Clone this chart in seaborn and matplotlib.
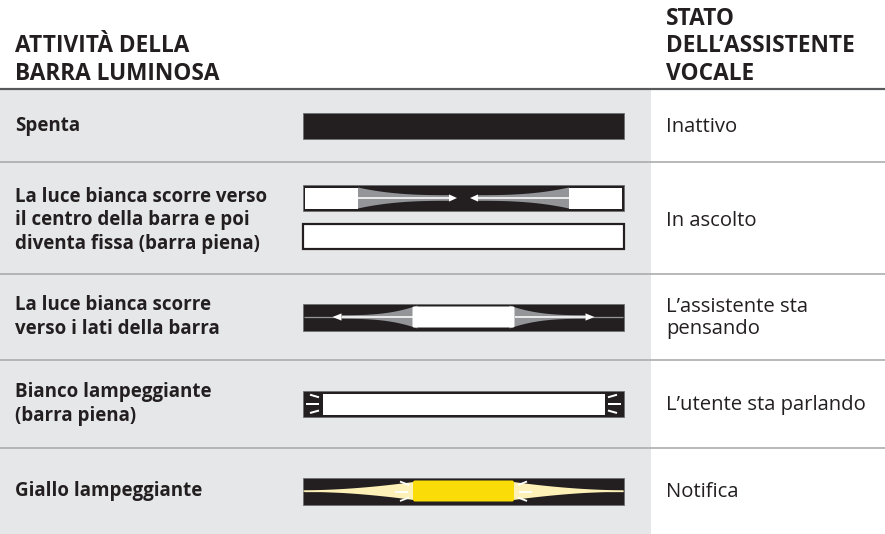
import numpy as np
import matplotlib
matplotlib.use("Agg")
import matplotlib.pyplot as plt
import seaborn as sns
from matplotlib.patches import Rectangle, Polygon, FancyBboxPatch

# ---------------- content ----------------
activity_header = ["ATTIVITÀ DELLA", "BARRA LUMINOSA"]
status_header = ["STATO", "DELL’ASSISTENTE", "VOCALE"]
activities = [
    "Spenta",
    "La luce bianca scorre verso\nil centro della barra e poi\ndiventa fissa (barra piena)",
    "La luce bianca scorre\nverso i lati della barra",
    "Bianco lampeggiante\n(barra piena)",
    "Giallo lampeggiante",
]
statuses = [
    "Inattivo",
    "In ascolto",
    "L’assistente sta\npensando",
    "L’utente sta parlando",
    "Notifica",
]
patterns = ["off", "converge", "diverge", "flash_white", "flash_yellow"]

# ---------------- style / layout ----------------
W, H = 885, 534
DARK = "#231f20"
GRAY_BG = "#e6e7e8"
SEP = "#a7a9ac"
TAPER = "#939598"
YELLOW = "#fadc08"
PALE = "#fdf1b8"
row_bounds = [89, 162, 274, 360, 448, 534]
gray_right = 651
BX0, BX1 = 303, 624
BW = BX1 - BX0
PX = 0.72  # points per pixel at dpi 100

sns.set_theme(style="white")
plt.rcParams["font.family"] = ["Open Sans", "DejaVu Sans"]

fig = plt.figure(figsize=(W / 100, H / 100), dpi=100)
ax = fig.add_axes([0, 0, 1, 1])
ax.set_xlim(0, W)
ax.set_ylim(H, 0)
ax.axis("off")

# backgrounds
ax.add_patch(Rectangle((0, row_bounds[0]), gray_right, H - row_bounds[0], fc=GRAY_BG, ec="none", zorder=0))
ax.plot([0, W], [row_bounds[0], row_bounds[0]], color="#58595b", lw=2.2 * PX, zorder=3,
        solid_capstyle="butt")
for yb in row_bounds[1:-1]:
    ax.plot([0, W], [yb, yb], color=SEP, lw=1.6 * PX, zorder=3, solid_capstyle="butt")

# headers
ax.text(15, 80, "\n".join(activity_header), fontsize=16.3, fontweight="bold", color=DARK,
        va="baseline", ha="left", linespacing=1.2)
ax.text(666, 80, "\n".join(status_header), fontsize=16.3, fontweight="bold", color=DARK,
        va="baseline", ha="left", linespacing=1.2)


def frame(y0, h=26, face=DARK, ec="#6d6e71", lw=0.8):
    ax.add_patch(Rectangle((BX0, y0), BW, h, fc=face, ec=ec, lw=lw * PX, zorder=2))


def taper(xa, xb, yc, ha, hb, p, color):
    t = np.linspace(0, 1, 60)
    xs = xa + (xb - xa) * t
    hs = hb + (ha - hb) * (1 - t) ** p
    pts = np.concatenate([np.column_stack([xs, yc - hs]), np.column_stack([xs[::-1], yc + hs[::-1]])])
    ax.add_patch(Polygon(pts, closed=True, fc=color, ec="none", zorder=4))


def hline(xa, xb, yc, color, lw):
    ax.plot([xa, xb], [yc, yc], color=color, lw=lw * PX, zorder=5, solid_capstyle="butt")


def head(xbase, xtip, yc, half=3.6, color="white"):
    ax.add_patch(Polygon([(xbase, yc - half), (xtip, yc), (xbase, yc + half)], closed=True,
                         fc=color, ec="none", zorder=6))


def ray(x1, y1, x2, y2, lw=2.0):
    ax.plot([x1, x2], [y1, y2], color="white", lw=lw * PX, zorder=6, solid_capstyle="butt")


MID = (BX0 + BX1) / 2


def draw_off(yc):
    frame(yc - 13)


def draw_converge(yc):
    ya, yb = 198, 236.5
    frame(ya - 13)
    for side in (-1, 1):
        blk_in = MID + side * (MID - 358)
        blk_out = MID + side * (MID - 305)
        x0 = min(blk_in, blk_out)
        ax.add_patch(Rectangle((x0, ya - 10.5), 53, 21, fc="white", ec="none", zorder=5))
        tip = MID + side * 6.5
        base = MID + side * 14.5
        taper(blk_in, base, ya, 10.5, 2.8, 2.6, TAPER)
        hline(blk_in, base, ya, "white", 1.6)
        head(base, tip, ya)
    frame(yb - 12.5, h=25, face="white", ec=DARK, lw=2.2)


def draw_diverge(yc):
    frame(yc - 13.5, h=27)
    hline(BX0 + 1, BX1 - 1, yc, TAPER, 1.3)
    for side in (-1, 1):
        blk = MID + side * 51
        base = MID + side * 122
        tip = MID + side * 131
        taper(blk - side * 5, base, yc, 11.5, 1.8, 2.8, TAPER)
        hline(blk, base, yc, "white", 1.6)
        head(base, tip, yc)
    ax.add_patch(FancyBboxPatch((MID - 51, yc - 10.5), 102, 21,
                                boxstyle="round,pad=0,rounding_size=1.5",
                                fc="white", ec="none", zorder=7))


def draw_flash_white(yc):
    frame(yc - 13)
    ax.add_patch(Rectangle((323, yc - 10.5), 282, 21, fc="white", ec="none", zorder=5))
    for side in (-1, 1):
        xin = MID + side * (MID - 319)
        xout = MID + side * (MID - 310)
        xfar = MID + side * (MID - 306)
        ray(xout, yc - 9.3, xin, yc - 6.7)
        ray(xfar, yc - 0.5, xin, yc - 0.5)
        ray(xout, yc + 9.0, xin, yc + 6.5)


def draw_flash_yellow(yc):
    frame(yc - 13.5, h=27)
    hline(BX0 + 1, BX1 - 1, yc, PALE, 1.3)
    for side in (-1, 1):
        blk = MID + side * 50
        end = MID + side * (BW / 2 - 0.5)
        taper(blk, end, yc, 9.0, 0.7, 1.8, PALE)
        xin = MID + side * (MID - 409)
        xout = MID + side * (MID - 400)
        xfar = MID + side * (MID - 395)
        xmid_in = MID + side * (MID - 408)
        ray(xout, yc - 9.5, xin, yc - 6.0, lw=1.8)
        ray(xfar, yc + 0.5, xmid_in, yc + 0.5, lw=1.8)
        ray(xout, yc + 10.0, xin, yc + 6.5, lw=1.8)
    ax.add_patch(FancyBboxPatch((MID - 50.5, yc - 10.5), 101, 21,
                                boxstyle="round,pad=0,rounding_size=2",
                                fc=YELLOW, ec="none", zorder=7))


drawers = {
    "off": draw_off,
    "converge": draw_converge,
    "diverge": draw_diverge,
    "flash_white": draw_flash_white,
    "flash_yellow": draw_flash_yellow,
}

for i, (act, stat, pat) in enumerate(zip(activities, statuses, patterns)):
    yc = (row_bounds[i] + row_bounds[i + 1]) / 2
    if i == 1:
        yc += 2.5
    ax.text(15, yc, act, fontsize=13.5, fontweight="bold", color=DARK, va="center", ha="left",
            linespacing=1.26)
    ax.text(666, yc + 1, stat, fontsize=14.6, color=DARK, va="center", ha="left", linespacing=1.15)
    drawers[pat]((row_bounds[i] + row_bounds[i + 1]) / 2)

fig.savefig("out.png", dpi=100)
